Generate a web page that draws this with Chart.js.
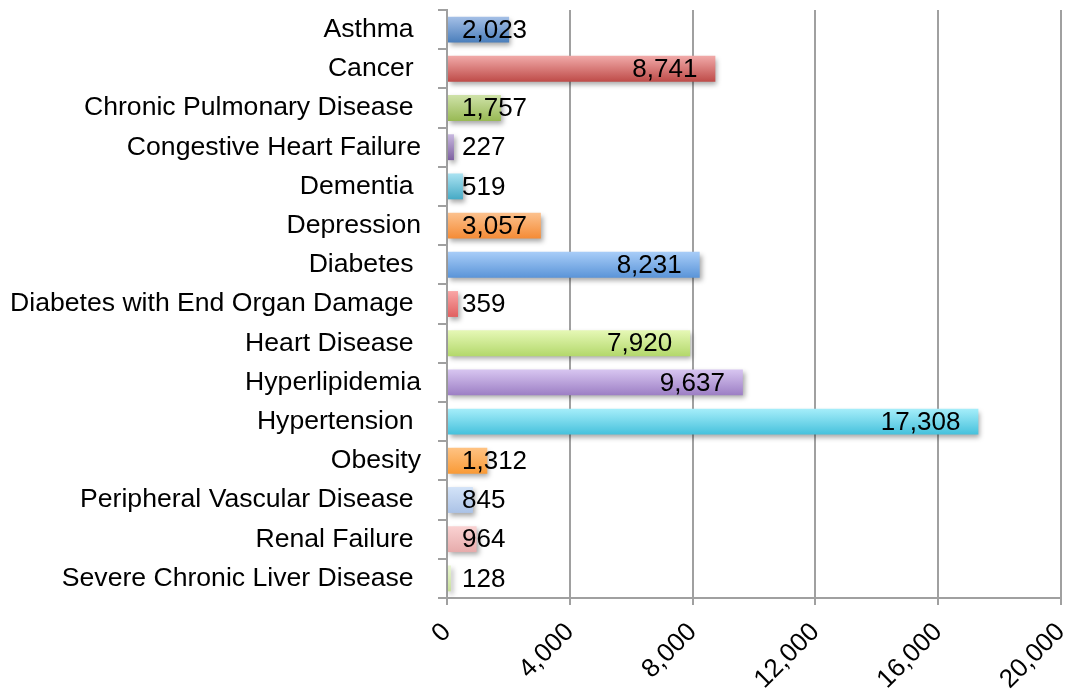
<!DOCTYPE html>
<html>
<head>
<meta charset="utf-8">
<script src="https://cdn.jsdelivr.net/npm/chart.js@4.4.1/dist/chart.umd.min.js"></script>
<style>
  html, body { margin: 0; padding: 0; background: #fff; }
  #wrap { width: 1074px; height: 698px; }
</style>
</head>
<body>
<div id="wrap"><canvas id="grafico"></canvas></div>
<script>
// categorias y valores
const categorias = [
  "Asthma ", "Cancer ", "Chronic Pulmonary Disease ", "Congestive Heart Failure",
  "Dementia ", "Depression", "Diabetes ", "Diabetes with End Organ Damage ",
  "Heart Disease ", "Hyperlipidemia", "Hypertension ", "Obesity",
  "Peripheral Vascular Disease ", "Renal Failure ", "Severe Chronic Liver Disease "
];
const valores = [2023, 8741, 1757, 227, 519, 3057, 8231, 359, 7920, 9637, 17308, 1312, 845, 964, 128];

// colores degradado (arriba claro, abajo oscuro)
const colorArriba = ["#a5c0e7", "#f1aaa9", "#cfe2a9", "#c8b8df", "#abe3f2", "#fcc28f",
  "#a8cdf8", "#f9a6a6", "#e6f8b6", "#d8c6f1", "#a6eefa", "#ffc383", "#d3e3f8", "#fad2d2", "#e9f6d2"];
const colorAbajo = ["#4a7ebb", "#be4b48", "#98b954", "#7d60a0", "#46aac5", "#f58b35",
  "#5a94d8", "#e06060", "#b3d86b", "#9c7ec4", "#46c1dc", "#f99a36", "#abc2e6", "#e6abab", "#c8e09a"];

const ticksX = [0, 4000, 8000, 12000, 16000, 20000];
const fuente = "'Liberation Sans', Arial, sans-serif";
const tam = 26;

function degradado(ctx) {
  const chart = ctx.chart;
  const escalaY = chart.scales.y;
  if (!escalaY || !chart.chartArea) return colorAbajo[ctx.dataIndex];
  const yc = escalaY.getPixelForValue(ctx.dataIndex);
  const g = chart.ctx.createLinearGradient(0, yc - 13, 0, yc + 13);
  g.addColorStop(0, colorArriba[ctx.dataIndex]);
  g.addColorStop(1, colorAbajo[ctx.dataIndex]);
  return g;
}

// sombra de las barras
const sombra = {
  id: "sombra",
  beforeDatasetsDraw(chart) {
    const c = chart.ctx;
    c.save();
    c.shadowColor = "rgba(0,0,0,0.35)";
    c.shadowBlur = 5;
    c.shadowOffsetX = 2;
    c.shadowOffsetY = 3;
  },
  afterDatasetsDraw(chart) {
    chart.ctx.restore();
  }
};

// etiquetas de valor
const etiquetas = {
  id: "etiquetas",
  afterDraw(chart) {
    const c = chart.ctx;
    const meta = chart.getDatasetMeta(0);
    const izq = chart.scales.x.left + 15;
    c.save();
    c.font = tam + "px " + fuente;
    c.fillStyle = "#000";
    c.textAlign = "right";
    c.textBaseline = "middle";
    meta.data.forEach((bar, i) => {
      const txt = valores[i].toLocaleString("en-US");
      const w = c.measureText(txt).width;
      const xr = Math.max(bar.x - 18, izq + w);
      c.fillText(txt, xr, bar.y + 1);
    });
    c.restore();
  }
};

new Chart(document.getElementById("grafico"), {
  type: "bar",
  data: {
    labels: categorias,
    datasets: [{
      data: valores,
      backgroundColor: degradado,
      borderWidth: 0,
      categoryPercentage: 1,
      barPercentage: 0.66
    }]
  },
  options: {
    indexAxis: "y",
    responsive: true,
    maintainAspectRatio: false,
    animation: false,
    layout: { padding: { top: 10, right: 13, left: 0, bottom: 0 } },
    plugins: { legend: { display: false }, tooltip: { enabled: false } },
    scales: {
      x: {
        min: 0,
        max: 20000,
        afterBuildTicks: s => { s.ticks = ticksX.map(v => ({ value: v })); },
        afterFit: s => { s.height = 100; s.paddingLeft = 0; s.paddingRight = 0; },
        grid: { color: "#a0a0a0", lineWidth: 2, tickLength: 7, drawTicks: true },
        border: { color: "#a0a0a0", width: 2 },
        ticks: {
          color: "#000",
          font: { family: fuente, size: tam },
          minRotation: 45,
          maxRotation: 45,
          padding: 12,
          callback: v => Number(v).toLocaleString("en-US")
        }
      },
      y: {
        afterFit: s => { s.width = 447; s.paddingTop = 0; s.paddingBottom = 0; },
        grid: { drawOnChartArea: false, color: "#a0a0a0", lineWidth: 2, tickLength: 9 },
        border: { color: "#a0a0a0", width: 2 },
        ticks: {
          color: "#000",
          font: { family: fuente, size: 26.6 },
          padding: 17,
          autoSkip: false
        }
      }
    }
  },
  plugins: [sombra, etiquetas]
});
</script>
</body>
</html>
